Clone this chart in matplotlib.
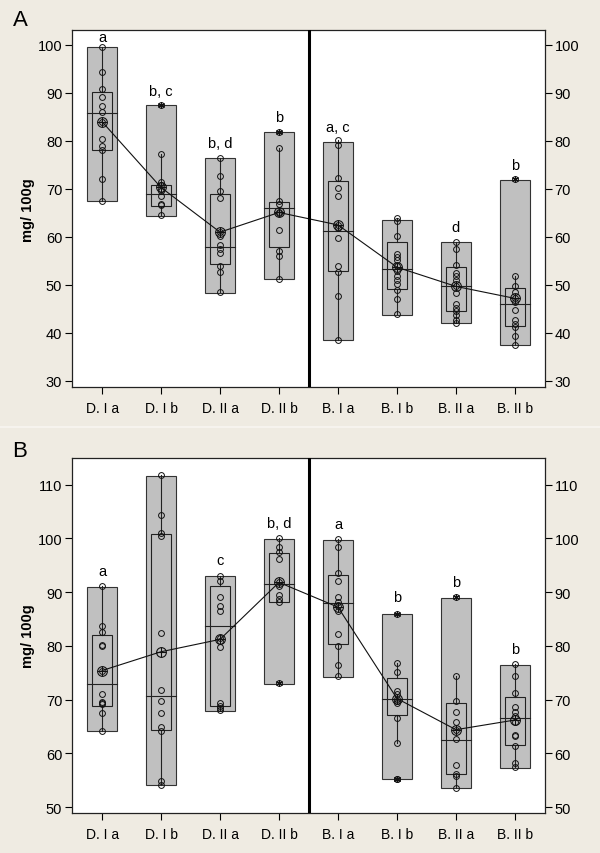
import numpy as np
import matplotlib
matplotlib.use("Agg")
import matplotlib.pyplot as plt
from matplotlib.lines import Line2D

plt.rcParams["font.family"] = ["Liberation Sans", "DejaVu Sans"]

# =========================
# DATA
# =========================
groups = ["D. I a", "D. I b", "D. II a", "D. II b", "B. I a", "B. I b", "B. II a", "B. II b"]

# panel A
A_points = [
    [99.6, 94.3, 90.8, 89.2, 87.2, 86.1, 84.0, 80.4, 79.0, 78.1, 72.0, 67.4],
    [87.5, 77.3, 71.4, 70.8, 70.0, 69.5, 68.6, 66.9, 66.7, 64.6],
    [76.5, 72.7, 69.5, 68.2, 61.0, 60.3, 58.4, 57.5, 56.7, 54.0, 52.8, 48.5],
    [81.9, 78.5, 67.4, 66.8, 65.3, 64.9, 61.5, 57.0, 56.0, 51.3],
    [80.1, 79.2, 72.3, 70.2, 68.5, 62.5, 61.8, 59.7, 53.9, 52.8, 47.8, 38.6],
    [64.0, 63.4, 60.3, 56.5, 55.8, 55.1, 54.0, 53.0, 51.9, 51.1, 50.2, 49.0, 47.1, 44.0],
    [59.0, 57.4, 54.2, 52.5, 51.8, 51.0, 49.7, 48.3, 46.0, 45.3, 44.6, 43.7, 42.6, 42.0],
    [72.1, 51.8, 49.7, 48.6, 47.3, 46.5, 44.8, 42.6, 41.9, 41.2, 39.3, 37.6],
]
A_bar_lo = [67.4, 64.3, 48.3, 51.2, 38.5, 43.8, 42.0, 37.5]
A_bar_hi = [99.5, 87.4, 76.5, 81.8, 79.7, 63.6, 58.9, 71.9]
A_q1 = [78.1, 66.4, 54.4, 57.9, 53.0, 49.2, 44.5, 41.4]
A_med = [85.8, 69.0, 57.9, 66.0, 61.3, 53.4, 49.7, 46.0]
A_q3 = [90.1, 70.9, 69.0, 67.2, 71.6, 58.9, 53.7, 49.3]
A_wlo = [67.4, 64.6, 48.5, 51.3, 38.6, 44.0, 42.0, 37.6]
A_whi = [99.6, 77.3, 76.5, 78.5, 80.1, 64.0, 59.0, 51.8]
A_mean = [84.0, 70.3, 61.0, 65.1, 62.5, 53.7, 49.7, 47.2]
A_outliers = [[], [87.5], [], [81.9], [], [], [], [72.1]]
A_letters = ["a", "b, c", "b, d", "b", "a, c", "", "d", "b"]
A_ticks = [30, 40, 50, 60, 70, 80, 90, 100]

# panel B
B_points = [
    [91.1, 83.6, 82.6, 80.2, 80.0, 75.4, 71.1, 69.5, 69.3, 69.1, 67.5, 64.2],
    [111.7, 104.4, 100.9, 100.4, 82.4, 71.8, 69.8, 67.5, 64.9, 64.2, 54.9, 54.1],
    [93.0, 92.1, 89.0, 87.5, 86.4, 81.4, 80.9, 79.7, 69.4, 68.8, 68.4, 68.0],
    [100.0, 98.3, 97.5, 96.2, 91.8, 91.2, 89.4, 88.7, 88.1, 73.0],
    [99.8, 98.3, 93.5, 92.0, 89.0, 88.2, 87.5, 86.5, 82.2, 79.9, 76.4, 74.3],
    [86.0, 76.8, 75.1, 71.6, 71.0, 70.2, 69.8, 69.4, 66.5, 62.0, 55.3, 55.2],
    [89.0, 74.4, 69.8, 67.7, 65.8, 64.4, 62.6, 57.8, 56.2, 55.8, 53.6],
    [76.6, 74.4, 71.3, 68.7, 67.7, 66.9, 65.8, 63.4, 63.2, 61.4, 58.2, 57.4],
]
B_bar_lo = [64.1, 54.1, 67.9, 72.9, 74.2, 55.2, 53.5, 57.2]
B_bar_hi = [90.9, 111.6, 92.9, 99.9, 99.7, 86.0, 88.9, 76.5]
B_q1 = [68.8, 64.3, 68.8, 88.1, 80.3, 67.1, 56.1, 61.6]
B_med = [72.9, 70.7, 83.6, 91.5, 87.9, 70.1, 62.5, 66.5]
B_q3 = [82.0, 100.8, 91.2, 97.3, 93.1, 74.0, 69.3, 70.5]
B_wlo = [64.2, 54.1, 68.0, 88.1, 74.3, 62.0, 53.6, 57.4]
B_whi = [91.1, 111.7, 93.0, 100.0, 99.8, 76.8, 74.4, 76.6]
B_mean = [75.4, 78.9, 81.2, 91.8, 87.2, 70.2, 64.4, 66.2]
B_outliers = [[], [], [], [73.0], [], [86.0, 55.3, 55.2], [89.0], []]
B_letters = ["a", "", "c", "b, d", "a", "b", "b", "b"]
B_ticks = [50, 60, 70, 80, 90, 100, 110]

BG = "#efebe2"
GREY = "#c0c0c0"


def draw_panel(ax, points, lo, hi, q1, med, q3, wlo, whi, mean, outl, letters, ticks, ylim, off):
    x = np.arange(len(groups))
    ax.bar(x, np.array(hi) - np.array(lo), bottom=lo, width=0.5,
           color=GREY, edgecolor="#333333", linewidth=0.8, zorder=1)
    ax.bar(x, np.array(q3) - np.array(q1), bottom=q1, width=0.34,
           color=GREY, edgecolor="#222222", linewidth=0.8, zorder=2)
    for i in range(len(groups)):
        ax.plot([x[i] - 0.25, x[i] + 0.25], [med[i], med[i]], color="#222222", lw=0.8, zorder=3)
        ax.plot([x[i], x[i]], [wlo[i], q1[i]], color="#222222", lw=0.8, zorder=3)
        ax.plot([x[i], x[i]], [q3[i], whi[i]], color="#222222", lw=0.8, zorder=3)
        ax.plot(np.full(len(points[i]), x[i]), points[i], "o", ms=4.2,
                mfc="none", mec="#111111", mew=0.7, zorder=4)
        if outl[i]:
            ax.plot(np.full(len(outl[i]), x[i]), outl[i], marker=(6, 2, 0), ls="none",
                    ms=5, mec="#111111", mew=0.8, zorder=4)
        if letters[i]:
            # letters sit above the bar but stay inside the frame
            ty = min(hi[i] + off, ylim[1] - 1.5)
            ax.text(x[i], ty, letters[i], ha="center", va="center", fontsize=10.5, zorder=6)
    ax.plot(x, mean, color="#111111", lw=0.8, zorder=5)
    ax.plot(x, mean, "o", ms=7, mfc="none", mec="#111111", mew=0.8, zorder=5)
    ax.plot(x, mean, "+", ms=7, mec="#111111", mew=0.8, zorder=5)

    ax.axvline(3.51, color="black", lw=2.2, zorder=6)
    ax.set_xlim(-0.51, 7.51)
    ax.set_ylim(*ylim)
    ax.set_xticks(x)
    ax.set_xticklabels(groups, fontsize=10)
    ax.set_yticks(ticks)
    ax.tick_params(axis="y", which="both", left=True, right=True, labelleft=True,
                   labelright=True, labelsize=10.5, direction="out", length=5, width=0.8, pad=2)
    ax.tick_params(axis="x", direction="out", length=5, width=0.8, pad=5)
    for s in ax.spines.values():
        s.set_linewidth(0.9)
        s.set_color("#222222")
    ax.set_facecolor("white")


fig = plt.figure(figsize=(6, 8.54), dpi=100, facecolor=BG)

axA = fig.add_axes([72 / 600, 1 - 388 / 854, 473 / 600, 357 / 854])
draw_panel(axA, A_points, A_bar_lo, A_bar_hi, A_q1, A_med, A_q3, A_wlo, A_whi,
           A_mean, A_outliers, A_letters, A_ticks, (28.75, 103.1), 3.1)

axB = fig.add_axes([72 / 600, 1 - 814 / 854, 473 / 600, 355.3 / 854])
draw_panel(axB, B_points, B_bar_lo, B_bar_hi, B_q1, B_med, B_q3, B_wlo, B_whi,
           B_mean, B_outliers, B_letters, B_ticks, (48.9, 115.0), 3.0)

# faint separator between the two panels
fig.add_artist(Line2D([0, 1], [1 - 428 / 854, 1 - 428 / 854], color="#f6f3ee", lw=1.5))

fig.text(20 / 600, 1 - 20 / 854, "A", fontsize=16, ha="center", va="center")
fig.text(20 / 600, 1 - 452 / 854, "B", fontsize=16, ha="center", va="center")
fig.text(28 / 600, 1 - 210 / 854, "mg/ 100g", fontsize=10.5, fontweight="bold",
         rotation=90, ha="center", va="center")
fig.text(28 / 600, 1 - 636 / 854, "mg/ 100g", fontsize=10.5, fontweight="bold",
         rotation=90, ha="center", va="center")

fig.savefig("out.png", dpi=100, facecolor=BG)
